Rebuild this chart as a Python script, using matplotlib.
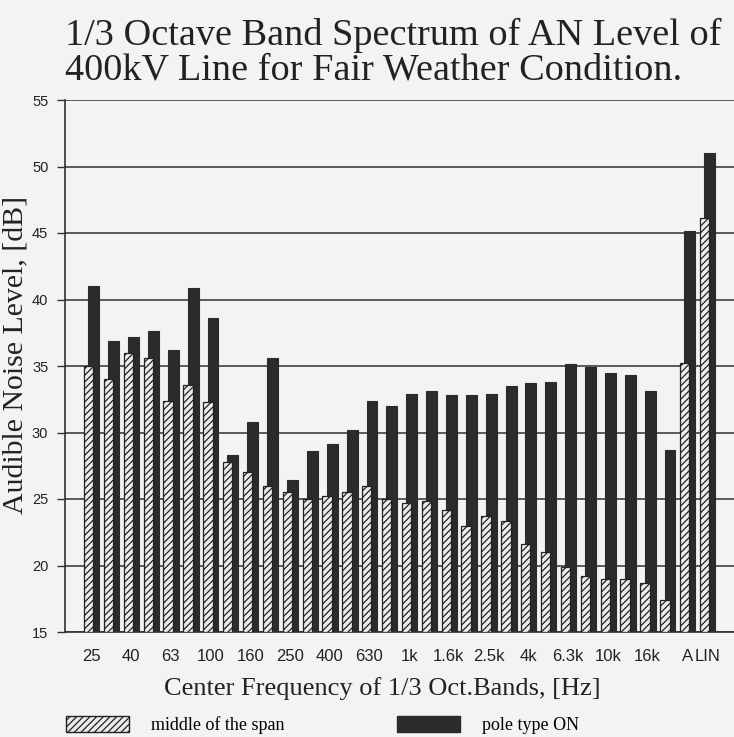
import numpy as np
import matplotlib.pyplot as plt
from matplotlib.patches import Patch

# 1/3 octave band centres (Hz) followed by the weighted totals
bands = ['25', '31.5', '40', '50', '63', '80', '100', '125', '160', '200',
         '250', '315', '400', '500', '630', '800', '1k', '1.25k', '1.6k', '2k',
         '2.5k', '3.15k', '4k', '5k', '6.3k', '8k', '10k', '12.5k', '16k', '20k',
         'A', 'LIN']
tick_labels = ['25', '', '40', '', '63', '', '100', '', '160', '', '250', '', '400', '',
               '630', '', '1k', '', '1.6k', '', '2.5k', '', '4k', '', '6.3k', '', '10k',
               '', '16k', '', 'A', 'LIN']

# middle of the span
mid_span = [35.0, 34.0, 36.0, 35.6, 32.4, 33.6, 32.3, 27.8, 27.05, 26.0,
            25.5, 25.0, 25.2, 25.55, 26.0, 25.0, 24.7, 24.85, 24.2, 23.0,
            23.7, 23.35, 21.6, 21.0, 19.9, 19.2, 19.0, 19.0, 18.7, 17.4,
            35.25, 46.15]
# pole type ON
pole_on = [41.0, 36.9, 37.2, 37.65, 36.2, 40.9, 38.6, 28.3, 30.8, 35.6,
           26.4, 28.6, 29.1, 30.2, 32.4, 32.0, 32.9, 33.1, 32.8, 32.8,
           32.9, 33.5, 33.75, 33.8, 35.15, 34.95, 34.5, 34.3, 33.1, 28.7,
           45.15, 51.0]

paper = '#f3f3f1'
dark = '#2b2b2b'
ink = '#222222'
plt.rcParams['hatch.linewidth'] = 0.9
plt.rcParams['hatch.color'] = '#3a3a3a'

fig = plt.figure(figsize=(7.34, 7.37), dpi=100, facecolor=paper)
ax = fig.add_axes([65 / 734, 1 - 632 / 737, 1 - 65 / 734, (632 - 100) / 737])
ax.set_facecolor(paper)

x = np.arange(len(bands))
base = 15
ax.bar(x + 0.13, np.array(pole_on) - base, bottom=base, width=0.55,
       color=dark, edgecolor=dark, linewidth=0.8, zorder=2)
ax.bar(x - 0.13, np.array(mid_span) - base, bottom=base, width=0.47,
       color='#ececec', edgecolor=ink, linewidth=0.9, hatch='/////', zorder=3)

ax.set_ylim(15, 55)
ax.set_xlim(-1.32, 32.35)
ax.set_yticks(range(15, 56, 5))
ax.yaxis.grid(True, color='#303030', linewidth=1.1, zorder=1)
ax.set_axisbelow(True)
ax.set_xticks(x)
ax.set_xticklabels(tick_labels, family='Liberation Sans', fontsize=12, color=ink)
ax.tick_params(axis='x', length=0, pad=12)
ax.tick_params(axis='y', length=6, width=1, color='#303030', pad=6)
for lab in ax.get_yticklabels():
    lab.set_family('Liberation Sans')
    lab.set_fontsize(10.5)
    lab.set_color(ink)
for s in ['top', 'right']:
    ax.spines[s].set_visible(False)
for s in ['left', 'bottom']:
    ax.spines[s].set_color('#303030')
    ax.spines[s].set_linewidth(1.2)

ax.set_ylabel('Audible Noise Level, [dB]', family='Liberation Serif', fontsize=21.5,
              color=ink)
ax.yaxis.set_label_coords(-0.054, 0.52)
ax.set_xlabel('Center Frequency of 1/3 Oct.Bands, [Hz]', family='Liberation Serif',
              fontsize=19, color=ink)
ax.xaxis.set_label_coords(0.475, -0.085)

fig.text(65 / 734, 1 - 45 / 737, '1/3 Octave Band Spectrum of AN Level of',
         family='Liberation Serif', fontsize=27.5, color=ink, va='baseline', ha='left')
fig.text(65 / 734, 1 - 80 / 737, '400kV Line for Fair Weather Condition.',
         family='Liberation Serif', fontsize=27.5, color=ink, va='baseline', ha='left')

handles = [Patch(facecolor='#ececec', edgecolor=ink, hatch='/////', label='middle of the span'),
           Patch(facecolor=dark, edgecolor=dark, label='pole type ON')]
fig.legend(handles=handles, loc='center left', bbox_to_anchor=(66 / 734, 1 - 725 / 737), ncol=2,
           frameon=False, prop={'family': 'Liberation Serif', 'size': 13},
           borderpad=0, borderaxespad=0,
           handlelength=3.5, handleheight=0.95, handletextpad=1.2, columnspacing=6.25)

fig.savefig('out.png', dpi=100, facecolor=paper)
